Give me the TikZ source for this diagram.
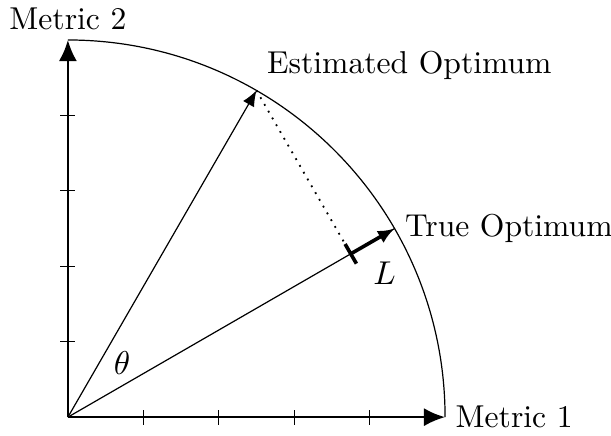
\documentclass[tikz,border=0pt]{standalone}
\usetikzlibrary{arrows.meta,calc}
\begin{document}
\begin{tikzpicture}[x=0.88cm,y=0.88cm,
  every node/.style={font=\fontsize{10.5}{12.6}\selectfont},
  axis/.style={thick,-{Latex[length=7pt,width=6pt]}},
  vec/.style={-{Latex[length=5.2pt,width=4.2pt]}},
  lvec/.style={line width=1.2pt,-{Latex[length=5.5pt,width=4.6pt]}},
  tickmark/.style={line width=0.4pt},
  lbl/.style={inner sep=0.333em}]
\useasboundingbox (-0.90,-0.239) rectangle (7.20,5.53);
\coordinate (O) at (0,0);
\coordinate (X) at (5,0);
\coordinate (Y) at (0,5);
\coordinate (E) at (60:5);
\coordinate (T) at (30:5);
\coordinate (F) at ($(O)!(E)!(T)$);
\coordinate (F1) at ($(F)+(120:0.15)$);
\coordinate (F2) at ($(F)+(-60:0.15)$);
% arc
\draw (X) arc[start angle=0,end angle=90,radius=5];
% ticks
\foreach \i in {1,2,3,4}{
  \draw[tickmark] (\i,-0.1) -- (\i,0.1);
  \draw[tickmark] (-0.1,\i) -- (0.1,\i);
}
% axes
\draw[axis] (O) -- (X);
\draw[axis] (O) -- (Y);
% vectors
\draw[vec] (O) -- (E);
\draw (O) -- (T);
\draw[line width=0.6pt,dotted] (E) -- (F);
\draw[lvec] (F) -- (T);
\draw[line width=1.2pt] (F1) -- (F2);
% labels
\node[lbl,above] (m2) at (Y) {Metric 2};
\node[lbl,right] (m1) at (X) {Metric 1};
\node[lbl,above right] (eo) at (E) {Estimated Optimum};
\node[lbl,right] (to) at (T) {True Optimum};
\node (L) at (4.20,1.91) {$L$};
\node (th) at (0.72,0.72) {$\theta$};
\end{tikzpicture}
\end{document}
